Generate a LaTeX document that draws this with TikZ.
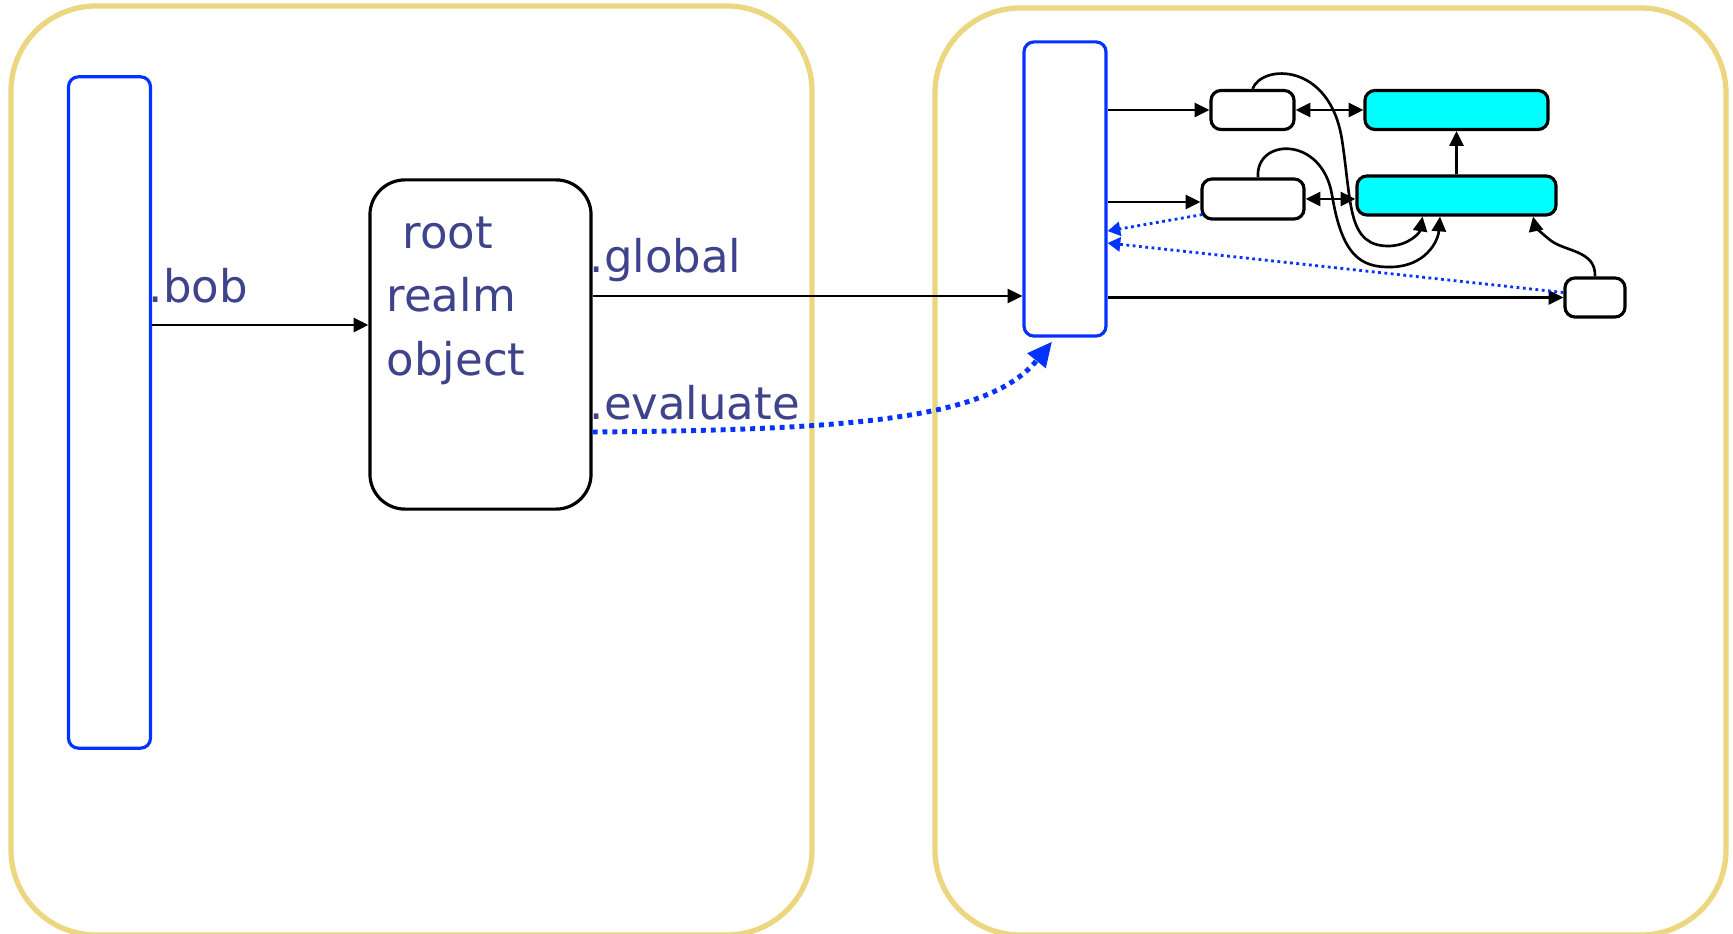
\documentclass[tikz,border=0pt]{standalone}
\usepackage{fontspec}
\setmainfont{DejaVu Sans}
\usetikzlibrary{arrows.meta}
\definecolor{realmgold}{RGB}{236,214,128}
\definecolor{objblue}{RGB}{4,51,255}
\definecolor{labelblue}{RGB}{63,67,140}
\definecolor{protocyan}{RGB}{0,255,255}

\begin{document}
\begin{tikzpicture}[x=0.01cm, y=-0.01cm,
    realm/.style = {draw=realmgold, line width=1.5pt, rounded corners=0.85cm},
    objbar/.style = {draw=objblue, line width=0.9pt, rounded corners=0.1cm, inner sep=0, minimum width=0.82cm},
    wbox/.style = {draw, fill=white, line width=0.9pt, rounded corners=0.1cm, inner sep=0, minimum height=0.39cm},
    cbox/.style = {wbox, fill=protocyan},
    lbl/.style = {text=labelblue, font=\fontsize{12.8}{18.1}\selectfont, inner sep=0},
    arr/.style = {-{Triangle[length=4.2pt, width=4pt]}, line width=0.75pt},
    pair/.style = {{Triangle[length=4.2pt, width=4pt]}-{Triangle[length=4.2pt, width=4pt]}, line width=0.75pt},
    back/.style = {-{Triangle[length=3.6pt, width=4pt]}, draw=objblue, line width=0.8pt, dash pattern=on 0.8pt off 1pt},
    evalarr/.style = {-{Triangle[length=7pt, width=6.4pt]}, draw=objblue, line width=1.4pt, dash pattern=on 1.4pt off 1.4pt}]
    \useasboundingbox (0,0) rectangle (1733,934);

    % the two realms
    \draw[realm] (11,6) rectangle (812,935);
    \draw[realm] (935,8) rectangle (1726,935);

    % objects
    \node[objbar, minimum height=6.71cm] (lbar) at (109.5,412.5) {};
    \node[wbox, minimum width=2.21cm, minimum height=3.29cm, rounded corners=0.35cm] (root) at (480.5,344.5) {};
    \node[objbar, minimum height=2.94cm] (rbar) at (1065,189) {};
    \node[wbox, minimum width=0.83cm] (s0) at (1252.5,110) {};
    \node[cbox, minimum width=1.83cm] (c0) at (1456.5,110) {};
    \node[wbox, minimum width=1.02cm, minimum height=0.4cm] (s1) at (1253,199) {};
    \node[cbox, minimum width=1.99cm] (c1) at (1456.5,195.5) {};
    \node[wbox, minimum width=0.6cm] (s2) at (1595,297.5) {};

    % labels
    \node[lbl, align=left, anchor=north west] (rname) at (386,216) {\hspace*{0.16cm}root\\realm\\object};
    \node[lbl, anchor=base west] (bob) at (148,303) {.bob};
    \node[lbl, anchor=base west] (glob) at (589,273) {.global};
    \node[lbl, anchor=base west] (eval) at (589,420) {.evaluate};

    % references between realms
    \draw[arr] (lbar.east |- 0,325) -- (root.west |- 0,325);
    \draw[arr] (root.east |- 0,296) -- (rbar.west |- 0,296);
    \draw[evalarr] (root.east |- 0,432) .. controls (860,430) and (990,418) .. ([xshift=-0.13cm, yshift=-0.04cm]rbar.south);

    % inside the right realm
    \draw[arr] (rbar.east |- s0.west) -- (s0.west);
    \draw[arr] (rbar.east |- 0,202) -- (s1.west |- 0,202);
    \draw[arr] (rbar.east |- s2.west) -- (s2.west);
    \draw[pair] (s0.east) -- (c0.west);
    \draw[pair] (s1.east) -- (c1.west |- s1.east);
    \draw[arr] (c1.north) -- (c0.south);
    \draw[arr] (s0.north) .. controls (1262,64) and (1330,62) .. (1342,140) .. controls (1352,205) and (1347,247) .. (1390,246) .. controls (1410,245) and (1420,232) .. ([xshift=-0.34cm]c1.south);
    \draw[arr] ([xshift=0.05cm]s1.north) .. controls (1255,138) and (1322,135) .. (1332,195) .. controls (1342,255) and (1360,268) .. (1392,267) .. controls (1425,266) and (1438,242) .. ([xshift=-0.165cm]c1.south);
    \draw[arr] (s2.north) .. controls (1596,250) and (1565,252) .. (1550,240) .. controls (1540,232) and (1535,226) .. ([xshift=0.765cm]c1.south);
    \draw[back] ([shift={(0.02cm,0.06cm)}]s1.south west) -- ([yshift=-0.42cm]rbar.east);
    \draw[back] ([yshift=0.05cm]s2.west) -- ([yshift=-0.54cm]rbar.east);
\end{tikzpicture}
\end{document}
